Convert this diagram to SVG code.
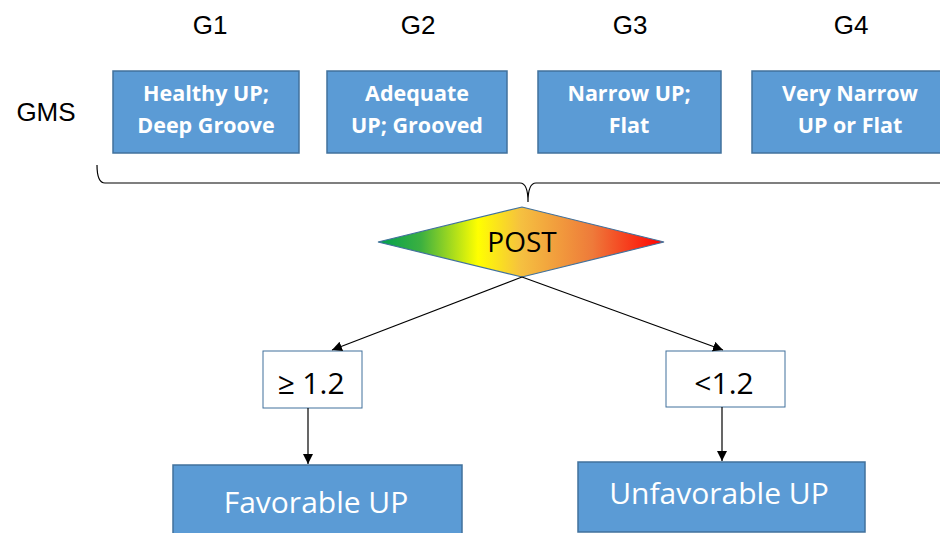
<svg xmlns="http://www.w3.org/2000/svg" width="940" height="533" viewBox="0 0 940 533">
<style>
.hdr{font-family:"Liberation Sans",Arial,sans-serif;font-size:26px;fill:#000;text-anchor:middle}
.gbox{fill:#5B9BD5;stroke:#41719C;stroke-width:1.5}
.gtxt{font-family:"Open Sans","Liberation Sans",sans-serif;font-weight:bold;font-size:21.5px;fill:#fff;text-anchor:middle}
.wbox{fill:#fff;stroke:#41719C;stroke-width:1}
.wtxt{font-family:"Open Sans","Liberation Sans",sans-serif;font-size:30px;fill:#000;text-anchor:middle}
.btxt{font-family:"Open Sans","Liberation Sans",sans-serif;font-size:30px;fill:#fff;text-anchor:middle}
.conn{stroke:#000;stroke-width:1.2;fill:none}
</style>
<defs>
<linearGradient id="grad" x1="0" y1="0" x2="1" y2="0">
<stop offset="0" stop-color="#00A050"/>
<stop offset="0.15" stop-color="#3CB040"/>
<stop offset="0.35" stop-color="#FFFF00"/>
<stop offset="0.5" stop-color="#F5C040"/>
<stop offset="0.75" stop-color="#EE7A3A"/>
<stop offset="1" stop-color="#FF0000"/>
</linearGradient>
<marker id="ah" viewBox="0 0 10 10" refX="10" refY="5" markerWidth="10" markerHeight="10" markerUnits="userSpaceOnUse" orient="auto">
<path d="M0,0 L10,5 L0,10 z" fill="#000"/>
</marker>
</defs>
<g id="labels">
<text class="hdr" x="210" y="34">G1</text>
<text class="hdr" x="418" y="34">G2</text>
<text class="hdr" x="630" y="34">G3</text>
<text class="hdr" x="851" y="34">G4</text>
<text class="hdr" x="46" y="121">GMS</text>
</g>
<g id="g1"><rect class="gbox" x="113" y="71" width="186" height="82"/><text class="gtxt" x="206" y="101">Healthy UP;</text><text class="gtxt" x="206" y="133">Deep Groove</text></g>
<g id="g2"><rect class="gbox" x="327" y="71" width="180" height="82"/><text class="gtxt" x="417" y="101">Adequate</text><text class="gtxt" x="417" y="133">UP; Grooved</text></g>
<g id="g3"><rect class="gbox" x="538" y="71" width="183" height="82"/><text class="gtxt" x="629" y="101">Narrow UP;</text><text class="gtxt" x="629" y="133">Flat</text></g>
<g id="g4"><rect class="gbox" x="752" y="71" width="200" height="82"/><text class="gtxt" x="850" y="101">Very Narrow</text><text class="gtxt" x="850" y="133">UP or Flat</text></g>
<g id="brace"><path class="conn" d="M97,165 Q97,183 105,183 L520,183 Q528,183 528,202 Q528,183 536,183 L940,183" stroke="#555"/></g>
<g id="post"><polygon points="378,242 522,207 664,242 522,277" fill="url(#grad)" stroke="#41719C" stroke-width="1.2"/><text x="522" y="252" font-family="'Open Sans','Liberation Sans',sans-serif" font-size="28" text-anchor="middle" fill="#000">POST</text></g>
<g id="ge"><rect class="wbox" x="263" y="351" width="99" height="57"/><text class="wtxt" x="311" y="394">≥ 1.2</text></g>
<g id="lt"><rect class="wbox" x="666" y="351" width="119" height="56"/><text class="wtxt" x="724" y="394">&lt;1.2</text></g>
<g id="fav"><rect class="gbox" x="173" y="465" width="289" height="80"/><text class="btxt" x="316" y="513">Favorable UP</text></g>
<g id="unfav"><rect class="gbox" x="578" y="462" width="287" height="70"/><text class="btxt" x="719" y="504">Unfavorable UP</text></g>
<g id="connectors">
<line class="conn" x1="522" y1="277" x2="332" y2="350" marker-end="url(#ah)"/>
<line class="conn" x1="522" y1="277" x2="723" y2="350" marker-end="url(#ah)"/>
<line class="conn" x1="308" y1="408" x2="308" y2="464" marker-end="url(#ah)"/>
<line class="conn" x1="722" y1="407" x2="722" y2="461" marker-end="url(#ah)"/>
</g>
</svg>
